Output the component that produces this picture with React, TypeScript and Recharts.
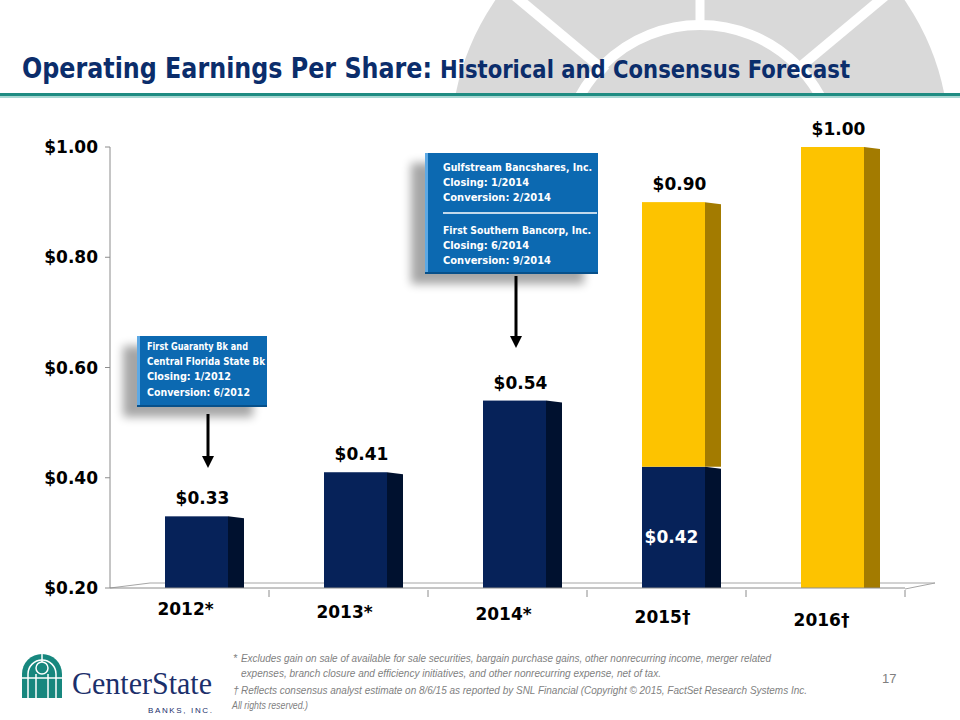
import React from "react";
import { BarChart, Bar, XAxis, YAxis, LabelList } from "recharts";

// EPS values
const years = ["2012*", "2013*", "2014*", "2015†", "2016†"];
const operating = [0.33, 0.41, 0.54, 0.42, 0];
const consensus = [0, 0, 0, 0.9, 1.0];
const yTicks = [0.2, 0.4, 0.6, 0.8, 1.0];

const data = years.map((year, i) => ({
  year,
  operating: operating[i],
  forecast: consensus[i] > 0 ? +(consensus[i] - operating[i]).toFixed(2) : 0,
  total: consensus[i] > 0 ? consensus[i] : operating[i],
}));

const NAVY = "#062259";
const NAVY_SIDE = "#00112f";
const GOLD = "#fdc300";
const GOLD_SIDE = "#a37b00";
const AXIS = "#8c8c8c";
const SHIFT = 7;
const DEPTH = 16;
const FONT = "'DejaVu Sans', Verdana, sans-serif";

const fmt = (v: number) => `$${v.toFixed(2)}`;

const Bar3D = (props: any) => {
  const { x, y, width, height, front, side } = props;
  if (!height || height < 0.5) return null;
  const fx = x + SHIFT;
  const rx = fx + width;
  return (
    <g>
      <polygon
        points={`${rx},${y} ${rx + DEPTH},${y + 2} ${rx + DEPTH},${y + height} ${rx},${y + height}`}
        fill={side}
      />
      <rect x={fx} y={y} width={width} height={height} fill={front} />
    </g>
  );
};

const OperatingLabel = (props: any) => {
  const { x, y, width, height, index } = props;
  if (!height || height < 0.5) return null;
  const cx = x + SHIFT + width / 2;
  if (consensus[index] > 0) {
    return (
      <text x={cx - 2} y={y + height * 0.58 + 6} textAnchor="middle" fill="#fff"
        fontFamily={FONT} fontWeight="bold" fontSize={17}>
        {fmt(operating[index])}
      </text>
    );
  }
  return (
    <text x={cx + 6} y={y - 12} textAnchor="middle" fill="#000"
      fontFamily={FONT} fontWeight="bold" fontSize={17}>
      {fmt(operating[index])}
    </text>
  );
};

const ForecastLabel = (props: any) => {
  const { x, y, width, height, index } = props;
  if (!height || height < 0.5) return null;
  return (
    <text x={x + SHIFT + width / 2 + 6} y={y - 12} textAnchor="middle" fill="#000"
      fontFamily={FONT} fontWeight="bold" fontSize={17}>
      {fmt(consensus[index])}
    </text>
  );
};

const YearTick = (props: any) => {
  const { x, y, payload, index, width, visibleTicksCount } = props;
  const band = (width || 795) / (visibleTicksCount || years.length);
  return (
    <g>
      <line x1={x + band / 2} x2={x + band / 2} y1={y + 2} y2={y + 9} stroke={AXIS} />
      <text x={x - 4} y={y + 27 + index * 2.7} textAnchor="middle" fill="#000"
        fontFamily={FONT} fontWeight="bold" fontSize={17}>
        {payload.value}
      </text>
    </g>
  );
};

const Watermark = () => (
  <svg width={960} height={720} style={{ position: "absolute", left: 0, top: 0 }}>
    <defs>
      <clipPath id="wm">
        <rect x={0} y={0} width={960} height={93} />
      </clipPath>
    </defs>
    <g clipPath="url(#wm)">
      <circle cx={700} cy={142} r={249} fill="#d9d9d9" />
      <circle cx={700} cy={162} r={137} fill="none" stroke="#fff" strokeWidth={10} />
      <line x1={515} y1={-4} x2={606} y2={72} stroke="#fff" strokeWidth={10} />
      <line x1={885} y1={-4} x2={794} y2={72} stroke="#fff" strokeWidth={10} />
      <line x1={700} y1={0} x2={700} y2={24} stroke="#fff" strokeWidth={9} />
    </g>
    <rect x={0} y={93} width={960} height={3} fill="#1f8c82" />
    <rect x={0} y={96} width={960} height={2} fill="#a9d8d3" />
    {/* floor of the 3d plot */}
    <polyline points="110,588 150,583 935,583 905,589" fill="none" stroke="#a6a6a6" strokeWidth={1} />
  </svg>
);

const Callout = ({ x, y, w, h, lines, sepY, tx }: any) => (
  <g>
    <rect x={x - 14} y={y + 10} width={w} height={h} fill="#000" opacity={0.35} filter="url(#blur)" />
    <rect x={x} y={y} width={w} height={h} fill="#0c69b1" />
    <rect x={x} y={y} width={3} height={h} fill="#5ea9e4" />
    <rect x={x} y={y + h - 2} width={w} height={2} fill="#07508a" />
    {sepY && <line x1={tx} x2={x + w - 1} y1={sepY} y2={sepY} stroke="#fff" strokeWidth={1.5} />}
    {lines.map((l: any, i: number) => (
      <text key={i} x={tx} y={l.y} fill="#fff" fontFamily={FONT}
        fontWeight="bold" fontSize={10} textLength={l.w} lengthAdjust="spacingAndGlyphs">
        {l.t}
      </text>
    ))}
  </g>
);

const Overlay = () => (
  <svg width={960} height={720} style={{ position: "absolute", left: 0, top: 0, pointerEvents: "none" }}>
    <defs>
      <filter id="blur" x="-20%" y="-20%" width="140%" height="140%">
        <feGaussianBlur stdDeviation={5} />
      </filter>
      <marker id="arrow" markerWidth={4} markerHeight={4} refX={2} refY={2} orient="auto">
        <path d="M0,0 L4,2 L0,4 z" fill="#000" />
      </marker>
    </defs>
    <text x={22} y={78} fill="#0b2d6b" fontFamily="'DejaVu Sans Condensed', 'DejaVu Sans', sans-serif"
      fontWeight="bold" fontSize={28} textLength={410} lengthAdjust="spacingAndGlyphs">
      Operating Earnings Per Share:
    </text>
    <text x={440} y={78} fill="#0b2d6b" fontFamily="'DejaVu Sans Condensed', 'DejaVu Sans', sans-serif"
      fontWeight="bold" fontSize={24} textLength={410} lengthAdjust="spacingAndGlyphs">
      Historical and Consensus Forecast
    </text>

    <Callout x={137} y={336} w={130} h={71} tx={147}
      lines={[
        { t: "First Guaranty Bk and", y: 350, w: 101 },
        { t: "Central Florida State Bk", y: 365, w: 118 },
        { t: "Closing: 1/2012", y: 380, w: 84 },
        { t: "Conversion: 6/2012", y: 396, w: 103 },
      ]} />
    <Callout x={425} y={153} w={173} h={121} sepY={213} tx={443}
      lines={[
        { t: "Gulfstream Bancshares, Inc.", y: 171, w: 149 },
        { t: "Closing: 1/2014", y: 186, w: 86 },
        { t: "Conversion:  2/2014", y: 201, w: 108 },
        { t: "First Southern Bancorp, Inc.", y: 234, w: 148 },
        { t: "Closing: 6/2014", y: 249, w: 86 },
        { t: "Conversion:  9/2014", y: 264, w: 108 },
      ]} />
    <line x1={208} y1={414} x2={208} y2={462} stroke="#000" strokeWidth={3} markerEnd="url(#arrow)" />
    <line x1={516} y1={276} x2={516} y2={342} stroke="#000" strokeWidth={3} markerEnd="url(#arrow)" />

    {/* logo */}
    <g>
      <path d="M22,698 L22,674 A20,20 0 0 1 62,674 L62,698 Z" fill="#17877e" />
      <path d="M28,698 L28,674 A14,14 0 0 1 56,674 L56,698" fill="none" stroke="#fff" strokeWidth={1.5} />
      <circle cx={42} cy={668} r={6} fill="none" stroke="#fff" strokeWidth={1.5} />
      <line x1={36} y1={674} x2={36} y2={698} stroke="#fff" strokeWidth={1.5} />
      <line x1={48} y1={674} x2={48} y2={698} stroke="#fff" strokeWidth={1.5} />
      <line x1={22} y1={678} x2={62} y2={678} stroke="#fff" strokeWidth={1.5} />
      <line x1={42} y1={654} x2={42} y2={662} stroke="#fff" strokeWidth={1.5} />
    </g>
    <text x={72} y={694} fill="#1b2f6b" fontFamily="'Liberation Serif', serif" fontSize={31}
      textLength={140} lengthAdjust="spacingAndGlyphs">
      CenterState
    </text>
    <text x={148} y={713} fill="#1b2f6b" fontFamily="'Liberation Sans', sans-serif" fontSize={8}
      textLength={64} lengthAdjust="spacing">
      BANKS, INC.
    </text>

    <g fill="#7f7f7f" fontFamily="'Liberation Sans', sans-serif" fontStyle="italic" fontSize={10.5}>
      <text x={233} y={662}>*</text>
      <text x={241} y={662} textLength={530} lengthAdjust="spacingAndGlyphs">
        Excludes gain on sale of available for sale securities, bargain purchase gains, other nonrecurring income, merger related
      </text>
      <text x={241} y={677} textLength={420} lengthAdjust="spacingAndGlyphs">
        expenses, branch closure and efficiency initiatives, and other nonrecurring expense, net of tax.
      </text>
      <text x={233} y={694}>†</text>
      <text x={241} y={694} textLength={566} lengthAdjust="spacingAndGlyphs">
        Reflects consensus  analyst estimate on 8/6/15 as reported by SNL Financial (Copyright © 2015, FactSet Research Systems Inc.
      </text>
      <text x={232} y={709} textLength={76} lengthAdjust="spacingAndGlyphs">
        All rights reserved.)
      </text>
    </g>
    <text x={882} y={683} fill="#7f7f7f" fontFamily="'Liberation Sans', sans-serif" fontSize={13}>
      17
    </text>
  </svg>
);

export default function App() {
  return (
    <div style={{ position: "absolute", left: 0, top: 0, width: 960, height: 720, background: "#fff", overflow: "hidden" }}>
      <Watermark />
      <div style={{ position: "absolute", left: 0, top: 0 }}>
        <BarChart
          width={960}
          height={720}
          data={data}
          margin={{ top: 147, right: 55, bottom: 0, left: 0 }}
          barCategoryGap={0}
        >
          <XAxis
            dataKey="year"
            height={132}
            interval={0}
            axisLine={{ stroke: AXIS }}
            tickLine={false}
            tickSize={0}
            tickMargin={0}
            tick={<YearTick />}
          />
          <YAxis
            width={110}
            domain={[0.2, 1.0]}
            ticks={yTicks}
            allowDataOverflow
            axisLine={{ stroke: AXIS }}
            tickLine={{ stroke: AXIS }}
            tickSize={5}
            tickMargin={7}
            tickFormatter={fmt}
            tick={{ fill: "#000", fontFamily: FONT, fontWeight: "bold", fontSize: 17 }}
          />
          <Bar
            dataKey="operating"
            stackId="eps"
            barSize={63}
            isAnimationActive={false}
            shape={(p: any) => <Bar3D {...p} front={NAVY} side={NAVY_SIDE} />}
          >
            <LabelList dataKey="operating" content={<OperatingLabel />} />
          </Bar>
          <Bar
            dataKey="forecast"
            stackId="eps"
            barSize={63}
            isAnimationActive={false}
            shape={(p: any) => <Bar3D {...p} front={GOLD} side={GOLD_SIDE} />}
          >
            <LabelList dataKey="forecast" content={<ForecastLabel />} />
          </Bar>
        </BarChart>
      </div>
      <Overlay />
    </div>
  );
}
